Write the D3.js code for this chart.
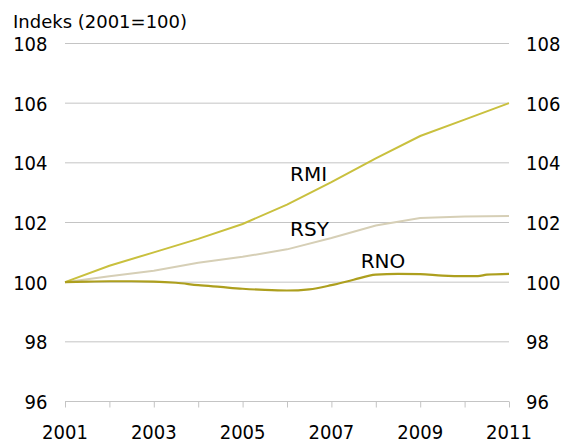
<!DOCTYPE html>
<html><head><meta charset="utf-8">
<script src="https://cdn.jsdelivr.net/npm/d3@7"></script>
<style>
body{margin:0;background:#fff;}
text{font-family:"DejaVu Sans Condensed","DejaVu Sans",sans-serif;fill:#000;}
text.reg{font-family:"DejaVu Sans",sans-serif;}
</style></head><body>
<svg id="c" width="563" height="441"></svg>
<script>
const years = [2001,2002,2003,2004,2005,2006,2007,2008,2009,2010,2011];
const tickYears = [2001,2003,2005,2007,2009,2011];
const yTicks = [96,98,100,102,104,106,108];
const rmi = [100,100.55,101.0,101.45,101.95,102.6,103.35,104.15,104.9,105.45,106.0];
const rsy = [100,100.2,100.38,100.65,100.85,101.1,101.48,101.9,102.15,102.2,102.22];
const rnoT = [2001,2001.5,2002,2002.5,2003,2003.5,2004,2004.5,2005,2005.5,2006,2006.5,2007,2007.5,2008,2008.5,2009,2009.5,2010,2010.3,2010.5,2011];
const rno = [100,100.02,100.03,100.03,100.02,99.98,99.9,99.84,99.78,99.74,99.72,99.76,99.9,100.08,100.25,100.28,100.27,100.22,100.2,100.2,100.25,100.28];
const labels = [{t:"RMI",x:2006.07,y:103.39},{t:"RSY",x:2006.07,y:101.55},{t:"RNO",x:2007.66,y:100.475}];

const svg = d3.select("#c");
const x = d3.scaleLinear().domain([2001,2011]).range([65,509]);
const y = d3.scaleLinear().domain([96,108]).range([401.5,43.5]);

// grid
svg.append("g").selectAll("line").data(yTicks.filter(d=>d>96)).join("line")
  .attr("x1",x(2001)).attr("x2",x(2011)).attr("y1",d=>y(d)).attr("y2",d=>y(d))
  .attr("stroke","#c4c4c4").attr("stroke-width",1);

// bottom axis
const xa = d3.axisBottom(x).tickValues(years).tickSize(6).tickFormat("");
const gx = svg.append("g").attr("transform",`translate(0,${y(96)})`).call(xa);
gx.select(".domain").attr("stroke","#c4c4c4").attr("d",`M${x(2001)},0H${x(2011)}`);
gx.selectAll(".tick line").attr("stroke","#c4c4c4");
svg.append("g").selectAll("text").data(tickYears).join("text")
  .attr("x",d=>x(d)).attr("y",439).attr("text-anchor","middle").attr("font-size",20).text(d=>d);

// y labels
svg.append("g").selectAll("text").data(yTicks).join("text")
  .attr("x",47.5).attr("y",d=>y(d)+7.5).attr("text-anchor","end").attr("font-size",20).text(d=>d);
svg.append("g").selectAll("text").data(yTicks).join("text")
  .attr("x",526).attr("y",d=>y(d)+7.5).attr("text-anchor","start").attr("font-size",20).text(d=>d);

svg.append("text").attr("class","reg").attr("x",13).attr("y",28).attr("font-size",18).text("Indeks (2001=100)");

const line = d3.line().x(d=>x(d[0])).y(d=>y(d[1]));
svg.append("path").datum(years.map((t,i)=>[t,rsy[i]])).attr("d",line)
  .attr("fill","none").attr("stroke","#d6cfb6").attr("stroke-width",2);
svg.append("path").datum(years.map((t,i)=>[t,rmi[i]])).attr("d",line)
  .attr("fill","none").attr("stroke","#c9c03e").attr("stroke-width",2);
svg.append("path").datum(rnoT.map((t,i)=>[t,rno[i]])).attr("d",line.curve(d3.curveMonotoneX))
  .attr("fill","none").attr("stroke","#ad9f1e").attr("stroke-width",2.2);

svg.append("g").selectAll("text").data(labels).join("text").attr("class","reg")
  .attr("x",d=>x(d.x)).attr("y",d=>y(d.y)).attr("font-size",20).text(d=>d.t);
</script></body></html>
